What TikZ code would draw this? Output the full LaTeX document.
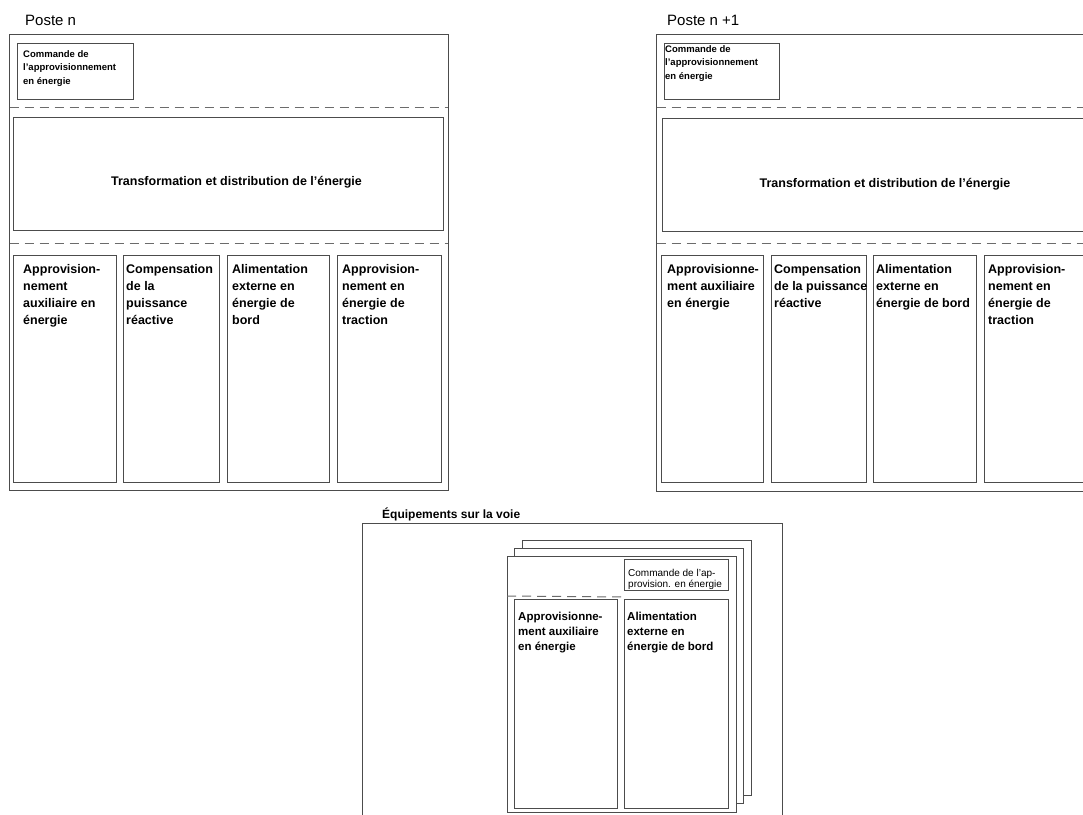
\documentclass[tikz,border=0pt]{standalone}
\usepackage{fontspec}
\setmainfont{Liberation Sans}
\begin{document}
\begin{tikzpicture}[x=1pt,y=-1pt,
  frame/.style={draw=black!70, line width=1pt},
  sheet/.style={frame, fill=white},
  sep/.style={draw=black!58, line width=1pt, dash pattern=on 9pt off 6pt},
  title/.style={anchor=base west, inner sep=0pt, font=\fontsize{15}{18}\selectfont},
  cmdtext/.style={anchor=north west, inner sep=0pt, align=left, font=\fontsize{9.5}{13.5}\selectfont\bfseries},
  coltext/.style={anchor=north west, inner sep=0pt, align=left, font=\fontsize{12.5}{17}\selectfont\bfseries},
  midtext/.style={anchor=base, inner sep=0pt, font=\fontsize{12.5}{17}\selectfont\bfseries},
  smallcol/.style={anchor=north west, inner sep=0pt, align=left, font=\fontsize{11.5}{15}\selectfont\bfseries},
  smallcmd/.style={anchor=north west, inner sep=0pt, align=left, font=\fontsize{10}{11}\selectfont}
]
\useasboundingbox (0,0) rectangle (1083,814);
\clip (0,0) rectangle (1083,814);

% ---------- Poste n ----------
\node[title] (tA) at (25,25) {Poste n};
\draw[frame] (9.5,34.5) rectangle (448,490);
\draw[frame] (17,43) rectangle (133,99);
\node[cmdtext] (cA) at (23,50) {Commande de\\l'approvisionnement\\en énergie};
\draw[sep] (9.5,107) -- (448,107);
\draw[frame] (13,117) rectangle (443,230);
\node[midtext] (trA) at (236.5,185) {Transformation et distribution de l’énergie};
\draw[sep] (9.5,243) -- (448,243);
\draw[frame] (13,255) rectangle (116,482);
\draw[frame] (123,255) rectangle (219,482);
\draw[frame] (227,255) rectangle (329,482);
\draw[frame] (337,255) rectangle (441,482);
\node[coltext] (a1) at (23,264) {Approvision-\\nement\\auxiliaire en\\énergie};
\node[coltext] (a2) at (126,264) {Compensation\\de la\\puissance\\réactive};
\node[coltext] (a3) at (232,264) {Alimentation\\externe en\\énergie de\\bord};
\node[coltext] (a4) at (342,264) {Approvision-\\nement en\\énergie de\\traction};

% ---------- Poste n+1 ----------
\node[title] (tB) at (667,25) {Poste n +1};
\draw[frame] (656.5,34.5) rectangle (1095,491);
\draw[frame] (664,43) rectangle (779,99);
\node[cmdtext] (cB) at (665,45) {Commande de\\l’approvisionnement\\en énergie};
\draw[sep] (656.5,107) -- (1095,107);
\draw[frame] (662,118) rectangle (1090,231);
\node[midtext] (trB) at (885,187) {Transformation et distribution de l’énergie};
\draw[sep] (656.5,243) -- (1095,243);
\draw[frame] (661,255) rectangle (763,482);
\draw[frame] (771,255) rectangle (866,482);
\draw[frame] (873,255) rectangle (976,482);
\draw[frame] (984,255) rectangle (1088,482);
\node[coltext] (b1) at (667,264.5) {Approvisionne-\\ment auxiliaire\\en énergie};
\node[coltext] (b2) at (774,264.5) {Compensation\\de la puissance\\réactive};
\node[coltext] (b3) at (876,264.5) {Alimentation\\externe en\\énergie de bord};
\node[coltext] (b4) at (988,264.5) {Approvision-\\nement en\\énergie de\\traction};

% ---------- Équipements sur la voie ----------
\node[title, font=\fontsize{12}{14}\selectfont\bfseries] (tC) at (382,518) {Équipements sur la voie};
\draw[frame] (362,523) rectangle (782,840);
\draw[sheet] (522,540) rectangle (751,795);
\draw[sheet] (514,548) rectangle (743,803);
\draw[sheet] (507,556) rectangle (736,812);
\draw[frame] (624,559) rectangle (728,590);
\node[smallcmd] (cC) at (628,569) {Commande de l'ap-\\provision. en énergie};
\draw[sep] (507,596) -- (624,597);
\draw[frame] (514,599) rectangle (617,808);
\draw[frame] (624,599) rectangle (728,808);
\node[smallcol] (c1) at (518,611.5) {Approvisionne-\\ment auxiliaire\\en énergie};
\node[smallcol] (c2) at (627,611.5) {Alimentation\\externe en\\énergie de bord};
\end{tikzpicture}
\end{document}
